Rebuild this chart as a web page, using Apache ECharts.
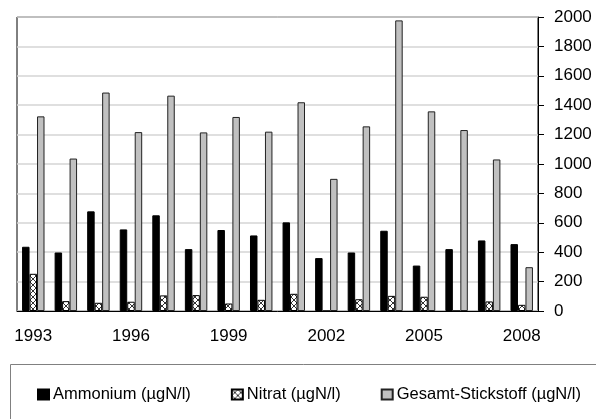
<!DOCTYPE html>
<html>
<head>
<meta charset="utf-8">
<script src="https://cdn.jsdelivr.net/npm/echarts@6/dist/echarts.min.js"></script>
<style>
  html, body { margin: 0; padding: 0; background: #fff; }
  #main { width: 596px; height: 419px; }
</style>
</head>
<body>
<div id="main"></div>
<script>
const years = ["1993", "1994", "1995", "1996", "1997", "1998", "1999", "2000",
   "2001", "2002", "2003", "2004", "2005", "2006", "2007", "2008"];
const ammonium = [437, 398, 678, 555, 651, 421, 551, 514, 603, 360, 398, 546, 309, 421, 480, 455];
const nitrat = [253, 67, 56, 63, 106, 108, 51, 76, 117, 0, 80, 103, 97, 0, 65, 42];
const gesamt = [1324, 1037, 1486, 1217, 1465, 1215, 1320, 1220, 1420, 899, 1256, 1977, 1358, 1231, 1031, 298];

// hatch pattern for Nitrat
const hatch = document.createElement("canvas");
hatch.width = 6;
hatch.height = 6;
const hc = hatch.getContext("2d");
hc.fillStyle = "#fff";
hc.fillRect(0, 0, 6, 6);
hc.strokeStyle = "#000";
hc.lineWidth = 0.8;
hc.beginPath();
hc.moveTo(0, 0); hc.lineTo(6, 6);
hc.moveTo(0, 6); hc.lineTo(6, 0);
hc.stroke();

const font = "Liberation Sans, Arial, sans-serif";
const myChart = echarts.init(document.getElementById("main"));

const option = {
   animation: false,
   textStyle: { fontFamily: font },
   grid: {
      left: 17,
      right: 58,
      top: 17,
      bottom: 108,
      show: true,
      borderColor: "#000",
      borderWidth: 1,
   },
   legend: {
      left: 32,
      top: 381,
      width: 570,
      itemWidth: 11,
      itemHeight: 10,
      itemGap: 40,
      textStyle: { fontSize: 16.5, color: "#000", fontFamily: font, padding: [0, 0, 0, -1] },
      data: [
         { name: "Ammonium (µgN/l)", icon: "rect" },
         { name: "Nitrat (µgN/l)", icon: "rect" },
         { name: "Gesamt-Stickstoff (µgN/l)", icon: "rect" },
      ],
   },
   graphic: [
      {
         type: "rect",
         shape: { x: 10.5, y: 364.5, width: 600, height: 80 },
         style: { fill: "none", stroke: "#808080", lineWidth: 1 },
         silent: true,
      },
   ],
   xAxis: {
      type: "category",
      data: years,
      axisLine: { lineStyle: { color: "#000" } },
      axisTick: { interval: 0, length: 4, lineStyle: { color: "#000" } },
      axisLabel: { interval: 2, fontSize: 17, color: "#000", margin: 17 },
   },
   yAxis: {
      type: "value",
      position: "right",
      min: 0,
      max: 2000,
      interval: 200,
      axisLine: { show: true, lineStyle: { color: "#000" } },
      axisTick: { show: true, length: 6, lineStyle: { color: "#000" } },
      axisLabel: { fontSize: 17, color: "#000", margin: 16, formatter: (v) => String(v) },
      splitLine: { lineStyle: { color: "#d4d4d4", width: 1.5 } },
   },
   series: [
      {
         name: "Ammonium (µgN/l)",
         type: "bar",
         barGap: "0%",
         barCategoryGap: "31%",
         itemStyle: { color: "#000", borderColor: "#000", borderWidth: 1 },
         data: ammonium,
      },
      {
         name: "Nitrat (µgN/l)",
         type: "bar",
         itemStyle: {
            color: { image: hatch, repeat: "repeat" },
            borderColor: "#000",
            borderWidth: 1,
         },
         data: nitrat,
      },
      {
         name: "Gesamt-Stickstoff (µgN/l)",
         type: "bar",
         itemStyle: { color: "#c0c0c0", borderColor: "#222", borderWidth: 1 },
         data: gesamt,
      },
   ],
};

myChart.setOption(option);
</script>
</body>
</html>
